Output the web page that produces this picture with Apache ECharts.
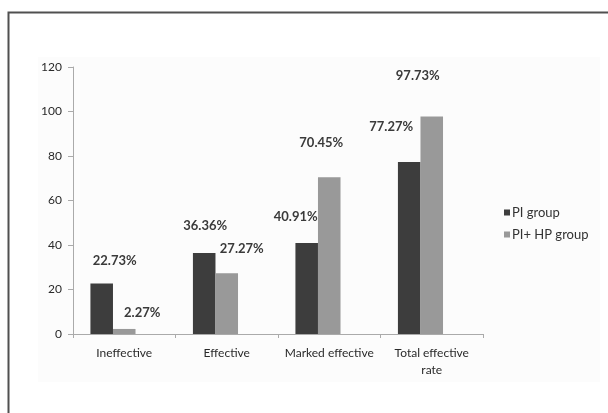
<!DOCTYPE html>
<html>
<head>
<meta charset="utf-8">
<script src="https://cdn.jsdelivr.net/npm/echarts@6/dist/echarts.min.js"></script>
<style>html,body{margin:0;padding:0;background:#fff;}#c{width:608px;height:413px;}</style>
</head>
<body>
<div id="c"></div>
<script>
const categories = ['Ineffective', 'Effective', 'Marked effective', 'Total effective\nrate'];
const seriesNames = ['PI group', 'PI+ HP group'];
const piGroup = [22.73, 36.36, 40.91, 77.27];
const piHpGroup = [2.27, 27.27, 70.45, 97.73];
const yTicks = { min: 0, max: 120, interval: 20 };

// label offsets (styling only), [dx, dy] relative to default top position
const piLabelOffsets = [[13, -16], [1, -21], [-11, -20], [-18, -29]];
const hpLabelOffsets = [[18, -10], [15, -18], [-8, -28], [-14, -34]];

const FONT = 'Lato, "Open Sans", sans-serif';

function withLabels(values, offsets) {
  return values.map((v, i) => ({
    value: v,
    label: { offset: offsets[i] }
  }));
}

const labelStyle = {
  show: true,
  position: 'top',
  distance: 0,
  formatter: '{c}%',
  fontFamily: FONT,
  fontSize: 13,
  fontWeight: 'bold',
  color: '#3a3a3a'
};

const chart = echarts.init(document.getElementById('c'), null, { renderer: 'canvas' });
chart.setOption({
  backgroundColor: '#ffffff',
  animation: false,
  graphic: [
    { type: 'rect', z: -10, shape: { x: 38, y: 57, width: 562, height: 325 }, style: { fill: '#fcfcfc' } },
    { type: 'rect', z: 100, shape: { x: 8.5, y: 12.5, width: 700, height: 500 }, style: { fill: 'none', stroke: '#505050', lineWidth: 2 } }
  ],
  grid: { left: 73, right: 125, top: 67, bottom: 79, containLabel: false },
  legend: {
    data: seriesNames,
    orient: 'vertical',
    left: 499,
    top: 201,
    icon: 'rect',
    itemWidth: 6,
    itemHeight: 6,
    itemGap: 9,
    textStyle: { fontFamily: FONT, fontSize: 13, color: '#333', padding: [0, 0, 0, -3] }
  },
  xAxis: {
    type: 'category',
    data: categories,
    boundaryGap: true,
    axisLine: { lineStyle: { color: '#aaaaaa', width: 1 } },
    axisTick: { show: true, length: 4, lineStyle: { color: '#aaaaaa' } },
    axisLabel: { fontFamily: FONT, fontSize: 12, color: '#2a2a2a', margin: 11, lineHeight: 17, interval: 0 }
  },
  yAxis: {
    type: 'value',
    min: yTicks.min,
    max: yTicks.max,
    interval: yTicks.interval,
    axisLine: { show: true, lineStyle: { color: '#aaaaaa', width: 1 } },
    axisTick: { show: true, length: 5, lineStyle: { color: '#aaaaaa' } },
    axisLabel: { fontFamily: FONT, fontSize: 12, color: '#2a2a2a', margin: 11 },
    splitLine: { show: false }
  },
  series: [
    {
      name: seriesNames[0], type: 'bar', barGap: 0, barCategoryGap: '34%',
      itemStyle: { color: '#3d3d3d' },
      label: labelStyle,
      data: withLabels(piGroup, piLabelOffsets)
    },
    {
      name: seriesNames[1], type: 'bar', barGap: 0, barCategoryGap: '34%',
      itemStyle: { color: '#999999' },
      label: labelStyle,
      data: withLabels(piHpGroup, hpLabelOffsets)
    },
    {
      name: 'spacer', type: 'bar', barGap: 0, barCategoryGap: '34%',
      silent: true,
      itemStyle: { color: 'rgba(0,0,0,0)' },
      data: categories.map(() => '-')
    }
  ]
});
</script>
</body>
</html>
